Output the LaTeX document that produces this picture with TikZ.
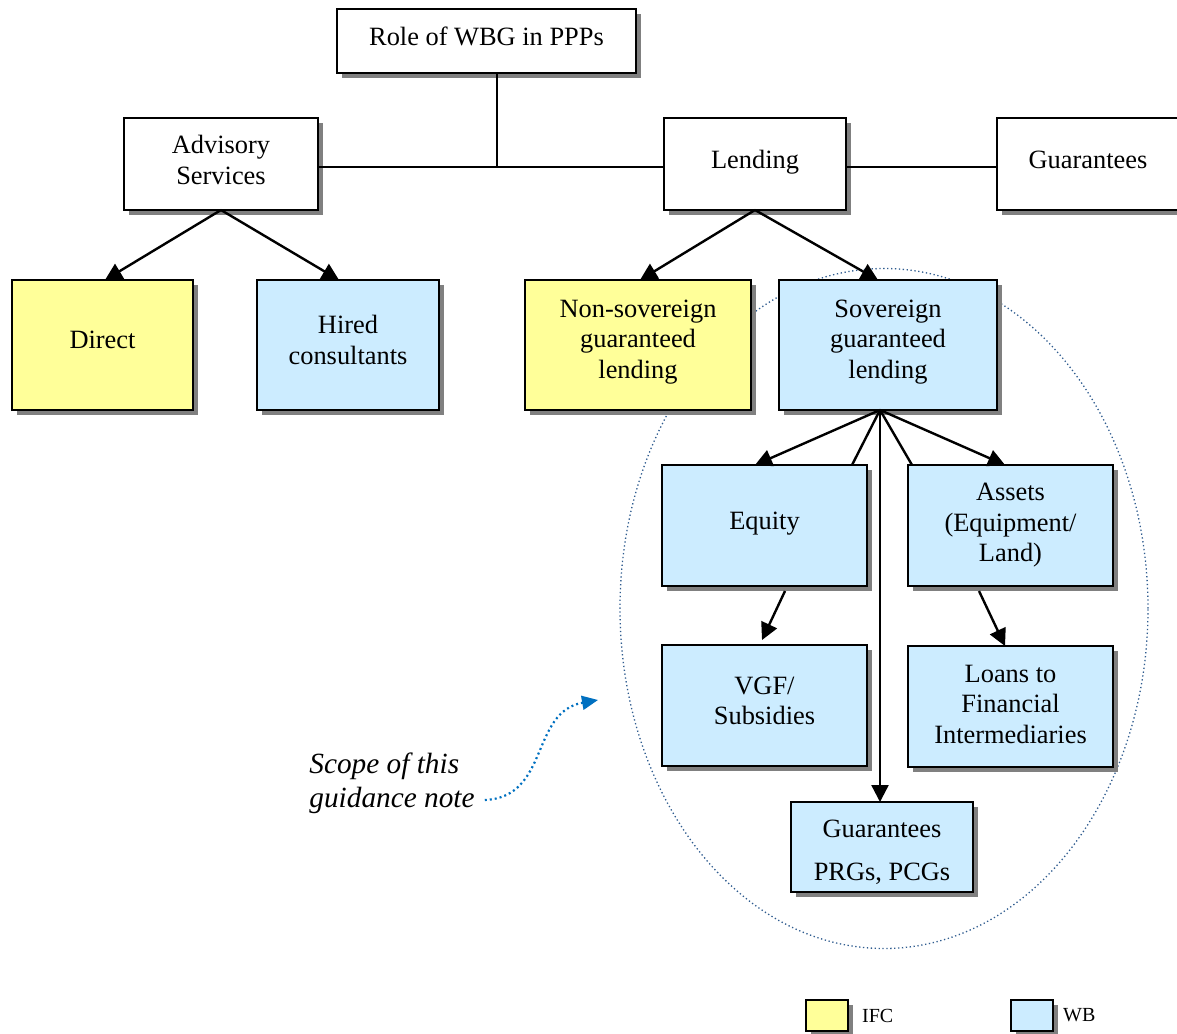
\documentclass[tikz,border=0pt]{standalone}
\usepackage{fontspec}
\setmainfont{Liberation Serif}
\usetikzlibrary{shadows,arrows.meta,calc}
\definecolor{ifcy}{HTML}{FFFF99}
\definecolor{wbb}{HTML}{CCECFF}
\definecolor{shd}{HTML}{808080}
\definecolor{ellc}{HTML}{2F5C8F}
\definecolor{scopec}{HTML}{0070C0}
\begin{document}
\begin{tikzpicture}[x=1pt,y=-1pt,
  bx/.style={draw=black, line width=1.8pt, inner sep=0pt, outer sep=0pt,
    drop shadow={shadow xshift=5pt,shadow yshift=-5pt,fill=shd,opacity=1}},
  wbx/.style={bx, fill=white},
  ybx/.style={bx, fill=ifcy},
  bbx/.style={bx, fill=wbb},
  txt/.style={font=\fontsize{26.4}{30.5}\selectfont, align=center, inner sep=0pt},
  arr/.style={line width=2.4pt, -{Triangle[length=17pt 0,width=17pt 0]}},
  ln/.style={line width=2.4pt},
  conn/.style={line width=1.5pt},
  scopeline/.style={draw=scopec, line width=2.2pt, dash pattern=on 2pt off 3pt,
    -{Triangle[length=16pt 0,width=14pt 0,fill=scopec]}},
]
\useasboundingbox (0,0) rectangle (1177,1033);

% scope ellipse (behind boxes)
\draw[draw=ellc, line width=1.3pt, dash pattern=on 1.3pt off 2.6pt] (884,608.5) ellipse [x radius=264pt, y radius=340pt];

% top level
\node[wbx, minimum width=299pt, minimum height=64pt] (role) at (486.5,41) {};
\node[txt] (roleT) at (486.5,36) {Role of WBG in PPPs};

\node[wbx, minimum width=194pt, minimum height=92pt] (adv) at (221,164) {};
\node[txt] (advT) at (221,160) {Advisory\\Services};

\node[wbx, minimum width=182pt, minimum height=92pt] (lend) at (755,164) {};
\node[txt] (lendT) at (755,162) {Lending};

\node[wbx, minimum width=182pt, minimum height=92pt] (guar) at (1088,164) {};
\node[txt] (guarT) at (1088,159.5) {Guarantees};

% second level
\node[ybx, minimum width=181pt, minimum height=130pt] (direct) at (102.5,345) {};
\node[txt] (directT) at (102.5,340) {Direct};

\node[bbx, minimum width=182pt, minimum height=130pt] (hired) at (348,345) {};
\node[txt] (hiredT) at (348,340) {Hired\\consultants};

\node[ybx, minimum width=226pt, minimum height=130pt] (nonsov) at (638,345) {};
\node[txt] (nonsovT) at (638,342) {Non-sovereign\\guaranteed\\lending};

\node[bbx, minimum width=218pt, minimum height=130pt] (sov) at (888,345) {};
\node[txt] (sovT) at (888,342) {Sovereign\\guaranteed\\lending};

% third level
\node[bbx, minimum width=205pt, minimum height=121pt] (equity) at (764.5,525.5) {};
\node[txt] (equityT) at (764.5,524) {Equity};

\node[bbx, minimum width=205pt, minimum height=121pt] (assets) at (1010.5,525.5) {};
\node[txt] (assetsT) at (1010.5,525.5) {Assets\\(Equipment/\\Land)};

\node[bbx, minimum width=205pt, minimum height=121pt] (vgf) at (764.5,705.5) {};
\node[txt] (vgfT) at (764.5,701) {VGF/\\Subsidies};

\node[bbx, minimum width=205pt, minimum height=121pt] (loans) at (1010.5,706.5) {};
\node[txt] (loansT) at (1010.5,704) {Loans to\\Financial\\Intermediaries};

\node[bbx, minimum width=182pt, minimum height=90pt] (gprg) at (882,847) {};
\node[txt] (gprgT) at (882,852.5) {Guarantees\\[12.5pt]PRGs, PCGs};

% top connectors
\coordinate (j) at (497,167);
\draw[conn] (adv.east |- j) -- (lend.west |- j);
\draw[conn] (lend.east |- j) -- (guar.west |- j);
\draw[conn] ([xshift=10.5pt]role.south) -- (j);

% arrows
\draw[arr] (adv.south) -- ([xshift=2.5pt]direct.north);
\draw[arr] (adv.south) -- ([xshift=-9pt]hired.north);
\draw[arr] (lend.south) -- ([xshift=2pt]nonsov.north);
\draw[arr] (lend.south) -- ([xshift=-10pt]sov.north);

\coordinate (apex) at ([xshift=-8pt]sov.south);
\draw[arr] (apex) -- ([xshift=-9.5pt]equity.north);
\draw[ln] (apex) -- ([xshift=-15pt]equity.north east);
\draw[arr] (apex) -- ([xshift=-2pt]gprg.north);
\draw[ln] (apex) -- ([xshift=4pt]assets.north west);
\draw[arr] (apex) -- ([xshift=-5.5pt]assets.north);

\draw[arr] ([xshift=20.5pt,yshift=-5pt]equity.south) -- ([xshift=-2.5pt,yshift=5pt]vgf.north);
\draw[arr] ([xshift=-31.5pt,yshift=-5pt]assets.south) -- ([xshift=-5.5pt]loans.north);

% scope note
\node[font=\itshape\fontsize{29.3}{34}\selectfont, align=left, inner sep=0pt] (scopeT) at (392,783.5) {Scope of this\\guidance note};
\coordinate (scopeEnd) at (598,700);
\draw[scopeline] ([xshift=10pt,yshift=-16.5pt]scopeT.east) .. controls (550,797) and (530,712) .. (scopeEnd);

% legend
\node[ybx, minimum width=42pt, minimum height=31pt] (ifc) at (827,1015.5) {};
\node[font=\fontsize{20}{24}\selectfont, anchor=west, inner sep=0pt] (ifcT) at ([xshift=14pt]ifc.east) {IFC};
\node[bbx, minimum width=42pt, minimum height=31pt] (wb) at (1032,1015.5) {};
\node[font=\fontsize{20}{24}\selectfont, anchor=west, inner sep=0pt] (wbT) at ([xshift=10pt]wb.east) {WB};
\end{tikzpicture}
\end{document}
